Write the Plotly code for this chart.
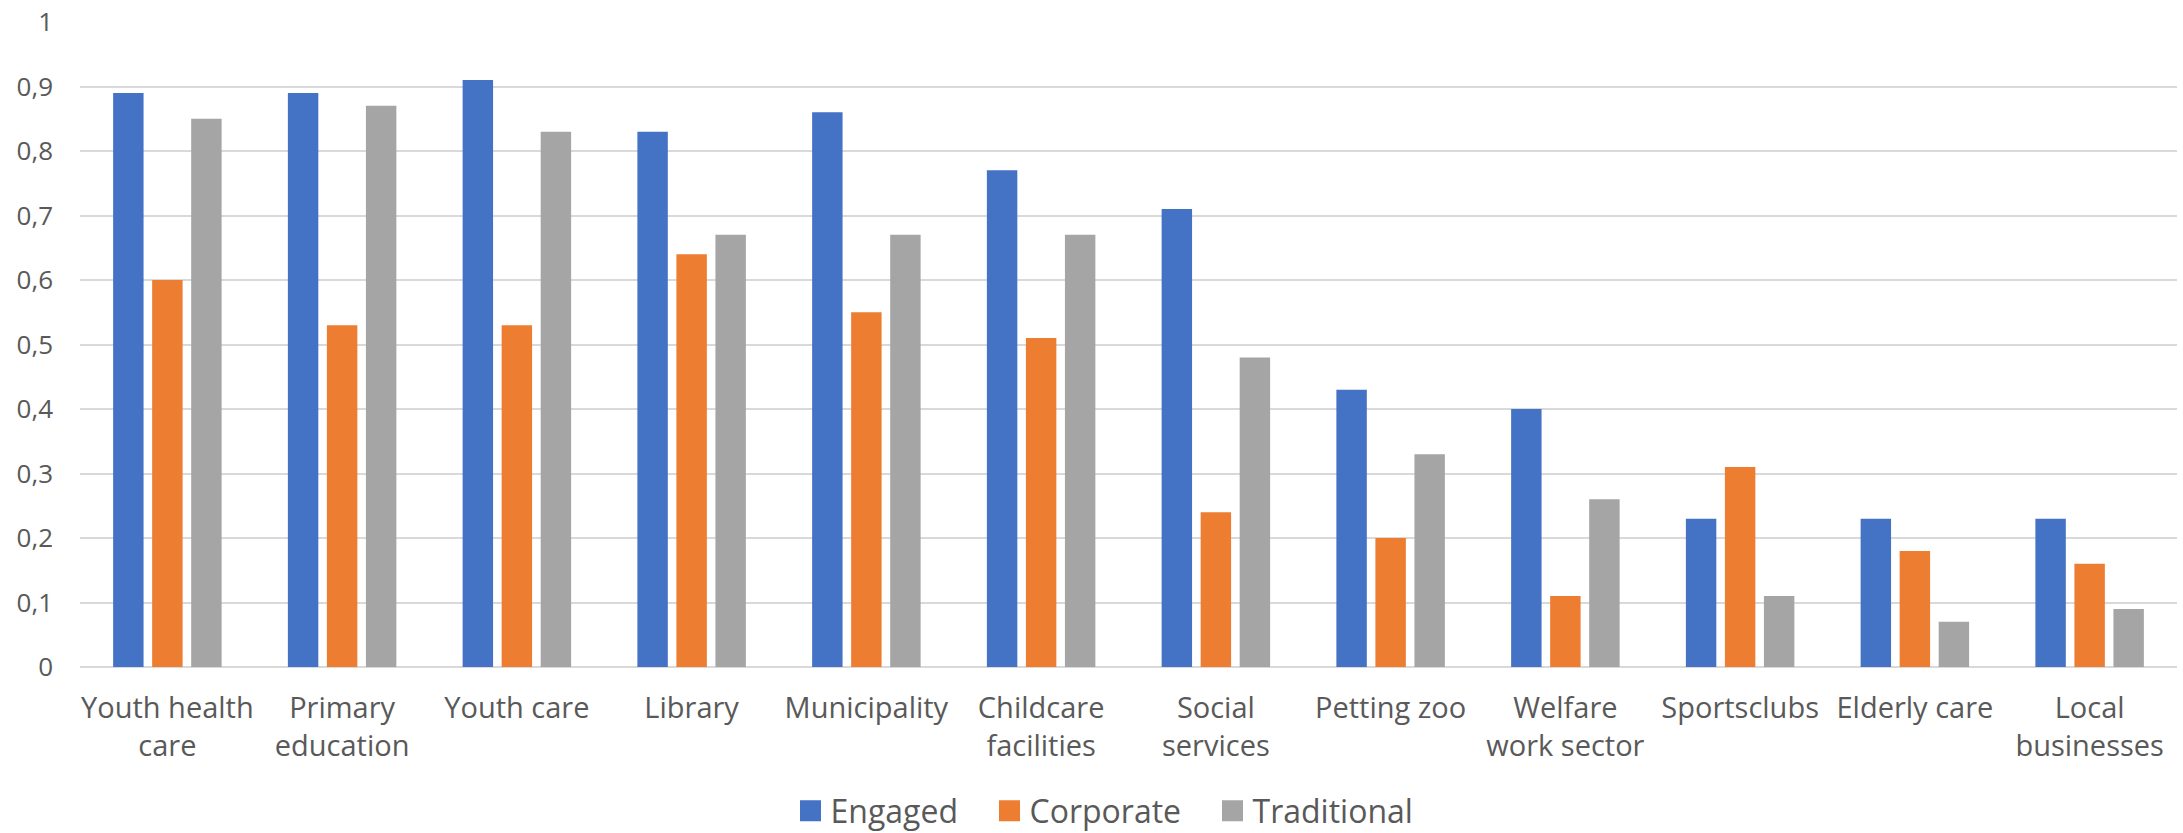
import plotly.graph_objects as go

categories = ["Youth health<br>care", "Primary<br>education", "Youth care", "Library",
              "Municipality", "Childcare<br>facilities", "Social<br>services", "Petting zoo",
              "Welfare<br>work sector", "Sportsclubs", "Elderly care", "Local<br>businesses"]
engaged = [0.89, 0.89, 0.91, 0.83, 0.86, 0.77, 0.71, 0.43, 0.40, 0.23, 0.23, 0.23]
corporate = [0.60, 0.53, 0.53, 0.64, 0.55, 0.51, 0.24, 0.20, 0.11, 0.31, 0.18, 0.16]
traditional = [0.85, 0.87, 0.83, 0.67, 0.67, 0.67, 0.48, 0.33, 0.26, 0.11, 0.07, 0.09]
series_names = ["Engaged", "Corporate", "Traditional"]
colors = ["#4472C4", "#ED7D31", "#A5A5A5"]

W, H = 2183, 833
legend_ids = ["legend", "legend2", "legend3"]
legend_swatch_centers = [810.5, 1009.5, 1232.5]  # px, for layout only

fig = go.Figure()
for name, vals, col in zip(series_names, [engaged, corporate, traditional], colors):
    fig.add_trace(go.Bar(x=categories, y=vals, name=name, marker_color=col,
                         marker_line_width=0, showlegend=False))
for name, col, lid in zip(series_names, colors, legend_ids):
    fig.add_trace(go.Scatter(x=[None], y=[None], mode="markers", name=name, legend=lid,
                             marker=dict(symbol="square", size=16, color=col,
                                         line=dict(color=col, width=5))))

legend_common = dict(orientation="h", xref="container", yref="container", xanchor="left",
                     y=0.0264, yanchor="middle", font=dict(size=32, color="#595959"),
                     itemsizing="trace", itemwidth=30, bgcolor="rgba(0,0,0,0)",
                     borderwidth=0)
layout_legends = {lid: dict(legend_common, x=(c - 20) / W)
                  for lid, c in zip(legend_ids, legend_swatch_centers)}

fig.update_layout(
    width=W, height=H,
    margin=dict(l=80, r=6, t=22, b=166),
    paper_bgcolor="white", plot_bgcolor="white",
    font=dict(family="Open Sans", color="#595959", size=28),
    separators=", ",
    barmode="group", bargap=0.33, bargroupgap=0.22,
    **layout_legends,
)
fig.update_xaxes(showgrid=False, showline=False, ticks="", tickfont=dict(size=29),
                 ticklabelstandoff=21, automargin=False)
fig.update_yaxes(range=[0, 1], dtick=0.1, showgrid=True, gridcolor="#D9D9D9", gridwidth=2,
                 zeroline=True, zerolinecolor="#D9D9D9", zerolinewidth=2,
                 tickfont=dict(size=26), ticklabelstandoff=26, showline=False,
                 automargin=False)

fig.write_html("out.html")
